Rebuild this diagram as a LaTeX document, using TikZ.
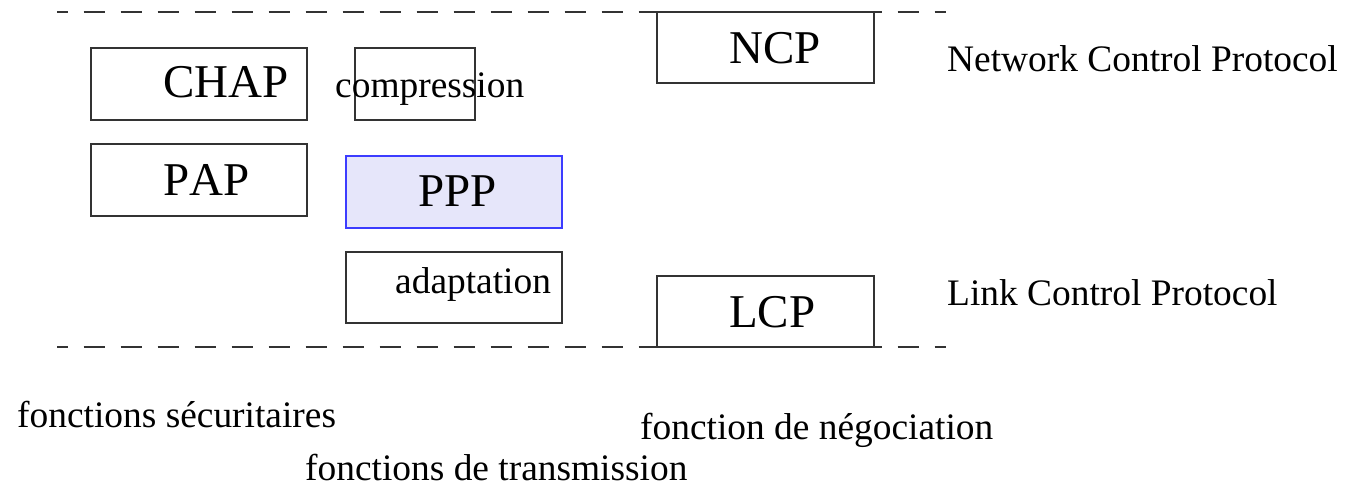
\documentclass[tikz,border=0pt]{standalone}
\usepackage{fontspec}
\setmainfont{Liberation Serif}[Kerning=Off]
\definecolor{boxline}{rgb}{0.2,0.2,0.2}
\definecolor{pppfill}{RGB}{230,230,250}
\definecolor{pppline}{RGB}{60,60,255}
\begin{document}
\begin{tikzpicture}[x=1pt,y=-1pt,
  box/.style={draw=boxline,line width=1.2pt},
  big/.style={inner sep=0pt,anchor=base west,font=\fontsize{47}{50}\selectfont},
  small/.style={inner sep=0pt,anchor=base west,font=\fontsize{37.4}{40}\selectfont},
  sep/.style={draw=boxline,line width=1.2pt,dash pattern=on 21.5pt off 15.5pt,dash phase=10.5pt}]
\useasboundingbox (0,0) rectangle (1345,487);
% separators
\coordinate (t1) at (57,12); \coordinate (t2) at (946,12);
\coordinate (b1) at (57,347); \coordinate (b2) at (946,347);
\draw[sep] (t1) -- (t2);
\draw[sep] (b1) -- (b2);
% boxes
\draw[box] (91,48) rectangle (307,120);
\draw[box] (355,48) rectangle (475,120);
\draw[box] (91,144) rectangle (307,216);
\draw[draw=pppline,fill=pppfill,line width=1.2pt] (346,156) rectangle (562,228);
\draw[box,fill=white] (346,252) rectangle (562,323);
\draw[box,fill=white] (657,12) rectangle (874,83);
\draw[box,fill=white] (657,276) rectangle (874,347);
% texts
\node[big] (chap) at (163,97) {CHAP};
\node[small] (comp) at (335,98) {compression};
\node[big] (pap) at (163,195) {PAP};
\node[big] (ppp) at (418,206) {PPP};
\node[small] (adapt) at (395,293) {adaptation};
\node[big] (ncp) at (729,64) {NCP};
\node[big] (lcp) at (729,327) {LCP};
\node[small] (ncpl) at (947,72) {Network Control Protocol};
\node[small] (lcpl) at (947,305) {Link Control Protocol};
\node[small] (secu) at (17,427) {fonctions sécuritaires};
\node[small] (nego) at (640,439) {fonction de négociation};
\node[small,text depth=0pt] (trans) at (305,480) {fonctions de transmission};
\end{tikzpicture}
\end{document}
